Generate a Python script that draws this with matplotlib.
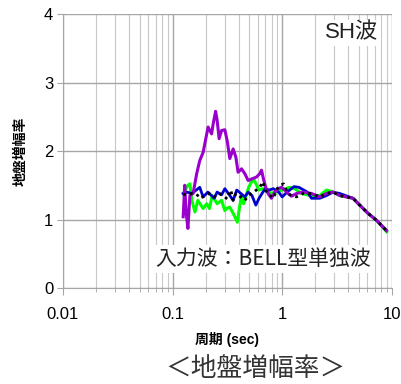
import matplotlib
matplotlib.use("Agg")
import matplotlib.pyplot as plt
from matplotlib.ticker import LogLocator, NullFormatter, FixedLocator

plt.rcParams['font.family'] = ['Liberation Sans', 'Noto Sans CJK JP', 'DejaVu Sans']

# purple curve
t_purple = [0.125, 0.129, 0.133, 0.138, 0.144, 0.154, 0.166, 0.177, 0.190, 0.201, 0.211,
            0.227, 0.235, 0.247, 0.255, 0.266, 0.280, 0.300, 0.315, 0.333, 0.357,
            0.378, 0.396, 0.426, 0.456, 0.489, 0.543, 0.583, 0.625, 0.648, 0.680,
            0.709, 0.744, 0.798, 0.857, 0.918, 0.986, 1.056, 1.132, 1.216, 1.35,
            1.55, 1.85, 2.20, 2.54, 2.91, 3.35, 4.43, 5.10, 6.07, 7.24, 8.93]
v_purple = [1.04, 1.50, 1.10, 0.87, 1.35, 1.38, 1.67, 1.86, 1.98, 2.18, 2.35,
            2.25, 2.40, 2.58, 2.45, 2.18, 2.30, 2.31, 2.15, 1.89, 2.03,
            1.91, 1.69, 1.74, 1.67, 1.57, 1.60, 1.62, 1.67, 1.72, 1.57,
            1.47, 1.38, 1.31, 1.40, 1.45, 1.47, 1.43, 1.38, 1.34, 1.38,
            1.40, 1.38, 1.33, 1.38, 1.40, 1.35, 1.31, 1.21, 1.09, 0.99, 0.84]

# green curve
t_green = [0.125, 0.138, 0.144, 0.150, 0.160, 0.170, 0.190, 0.205, 0.217, 0.230, 0.255,
           0.280, 0.300, 0.310, 0.333, 0.365, 0.390, 0.408, 0.425, 0.445, 0.465,
           0.495, 0.545, 0.615, 0.665, 0.750, 0.810, 0.990, 1.17, 1.30, 1.50,
           1.80, 2.20, 2.54, 2.91, 3.35, 4.43, 5.10, 6.07, 7.24, 9.0]
v_green = [1.38, 1.50, 1.52, 1.28, 1.11, 1.28, 1.16, 1.23, 1.16, 1.35, 1.23,
           1.28, 1.13, 1.16, 1.18, 1.06, 0.96, 1.18, 1.33, 1.23, 1.33,
           1.47, 1.60, 1.43, 1.45, 1.40, 1.38, 1.43, 1.47, 1.45, 1.38,
           1.35, 1.35, 1.43, 1.40, 1.35, 1.31, 1.21, 1.09, 0.99, 0.82]

# blue curve
t_blue = [0.125, 0.135, 0.150, 0.177, 0.190, 0.210, 0.240, 0.255, 0.280, 0.300, 0.333,
          0.357, 0.385, 0.420, 0.456, 0.489, 0.530, 0.575, 0.615, 0.655, 0.700,
          0.760, 0.830, 0.930, 1.000, 1.110, 1.280, 1.420, 1.700, 1.85, 2.20,
          2.54, 2.91, 3.35, 4.43, 5.10, 6.07, 7.24, 8.93]
v_blue = [1.38, 1.40, 1.38, 1.47, 1.33, 1.40, 1.31, 1.40, 1.36, 1.45, 1.35,
          1.28, 1.43, 1.38, 1.33, 1.40, 1.35, 1.21, 1.31, 1.38, 1.45,
          1.43, 1.45, 1.40, 1.33, 1.40, 1.48, 1.47, 1.40, 1.31, 1.31,
          1.35, 1.40, 1.38, 1.31, 1.21, 1.09, 0.99, 0.84]

# black dotted curve
t_black = [0.125, 0.135, 0.150, 0.166, 0.177, 0.195, 0.215, 0.240, 0.266, 0.290, 0.315,
           0.340, 0.357, 0.378, 0.410, 0.456, 0.500, 0.550, 0.625, 0.665, 0.709,
           0.780, 0.830, 0.900, 0.960, 1.030, 1.130, 1.216, 1.35, 1.55, 1.85,
           2.20, 2.54, 2.91, 3.35, 4.43, 5.10, 6.07, 7.24, 8.93]
v_black = [1.37, 1.36, 1.38, 1.37, 1.31, 1.34, 1.38, 1.33, 1.38, 1.35, 1.30,
           1.43, 1.28, 1.38, 1.34, 1.28, 1.36, 1.40, 1.47, 1.55, 1.42,
           1.35, 1.31, 1.45, 1.50, 1.52, 1.38, 1.35, 1.33, 1.38, 1.38,
           1.33, 1.38, 1.40, 1.35, 1.31, 1.21, 1.09, 0.99, 0.84]

x_ticks = [0.01, 0.1, 1, 10]
x_tick_labels = ['0.01', '0.1', '1', '10']
y_ticks = [0, 1, 2, 3, 4]

fig = plt.figure(figsize=(4.01, 3.84), dpi=100)
ax = fig.add_axes([0.157, 0.25, 0.820, 0.7135])

ax.set_xscale('log')
ax.set_xlim(0.01, 10)
ax.set_ylim(0, 4)

ax.xaxis.set_major_locator(FixedLocator(x_ticks))
ax.set_xticklabels(x_tick_labels)
ax.xaxis.set_minor_locator(LogLocator(base=10, subs=range(2, 10)))
ax.xaxis.set_minor_formatter(NullFormatter())
ax.set_yticks(y_ticks)

ax.grid(True, which='major', axis='both', color='#a6a6a6', lw=1.0)
ax.grid(True, which='minor', axis='x', color='#c8c8c8', lw=0.8)
ax.set_axisbelow(True)

for s in ['top', 'right']:
    ax.spines[s].set_visible(False)
ax.spines['left'].set_color('#a6a6a6')
ax.spines['bottom'].set_color('#a6a6a6')

ax.tick_params(axis='x', which='major', direction='out', length=5, color='#a6a6a6',
               labelsize=12, pad=9)
ax.tick_params(axis='x', which='minor', direction='out', length=3, color='#a6a6a6')
ax.tick_params(axis='y', direction='out', length=4, color='#a6a6a6', labelsize=12, pad=3)

ax.plot(t_green, v_green, color='#00ff00', lw=2.2)
ax.plot(t_blue, v_blue, color='#0000cc', lw=2.0)
ax.plot(t_purple, v_purple, color='#9900cc', lw=2.2)
ax.plot(t_black, v_black, color='black', lw=2.0, ls=(0, (1, 1.5)))

ax.set_xlabel('周期 (sec)', fontsize=10, fontweight='bold', labelpad=7)
ax.set_ylabel('地盤増幅率', fontsize=10, fontweight='bold', labelpad=12,
              family=['Noto Sans CJK JP'])

ax.text(0.878, 0.93, 'SH波', transform=ax.transAxes, ha='center', va='center',
        fontsize=16, color='#222222',
        bbox=dict(facecolor='white', edgecolor='none', pad=2))
ax.text(0.608, 0.106, '入力波：BELL型単独波', transform=ax.transAxes, ha='center', va='center',
        fontsize=15, color='#222222', family=['Noto Sans CJK JP'],
        bbox=dict(facecolor='white', edgecolor='none', pad=2))

fig.text(0.636, 0.04, '＜地盤増幅率＞', ha='center', va='center', fontsize=18.5,
         color='#333333', family=['Noto Sans CJK JP'])

fig.savefig('out.png', dpi=100)
